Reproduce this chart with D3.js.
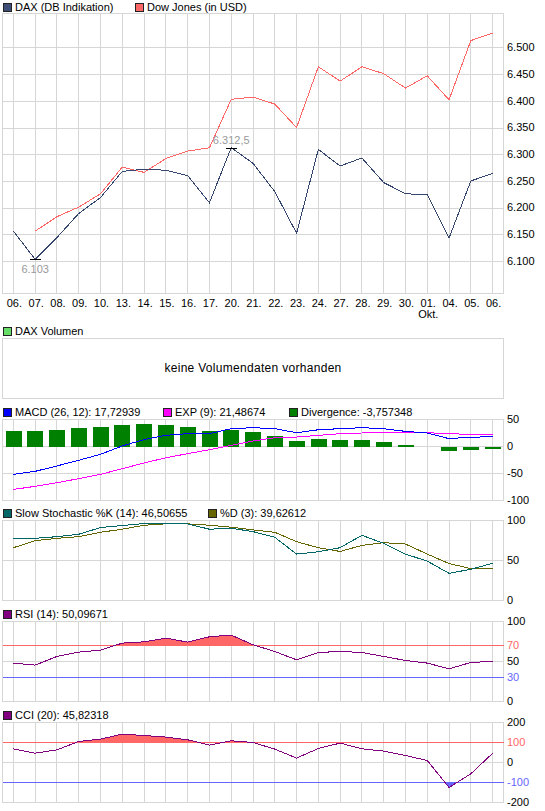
<!DOCTYPE html>
<html><head><meta charset="utf-8">
<script src="https://cdn.jsdelivr.net/npm/d3@7/dist/d3.min.js"></script>
<style>
body{margin:0;background:#fff;}
svg{display:block;font-family:"Liberation Sans",Arial,sans-serif;font-size:11px;}
.grid{stroke:#d6d6d6;stroke-width:1;shape-rendering:crispEdges;fill:none;}
.ln{fill:none;stroke-width:1;shape-rendering:crispEdges;}
</style></head><body>
<svg id="c" width="545" height="811"></svg>
<script>
// ---------- data ----------
const days = ["06.","07.","08.","09.","10.","13.","14.","15.","16.","17.","20.","21.","22.","23.","24.","27.","28.","29.","30.","01.","04.","05.","06."];
const monthIndex = [19];
const monthNames = ["Okt."];
const dax = [6156,6103,6144,6189,6219,6268,6272,6270,6260,6209,6312.5,6283,6230,6152,6309,6278,6293,6247,6226,6224,6143,6250,6264];
const dow = [null,6156,6183,6201,6226,6276,6266,6292,6306,6312,6403,6407,6394,6350,6464,6437,6464,6451,6424,6447,6402,6513,6527];
const priceTicks = [6100,6150,6200,6250,6300,6350,6400,6450,6500];
const priceDomain = [6039.1,6563.7];
const macd = [-51.5,-46,-36,-25.5,-14.5,1,12.8,20.7,23.8,23.8,33,34.8,33,25.5,31,33,34.8,33,28,25,14.5,17.5,17.7];
const macdExp = [-79.5,-73.8,-67,-59.6,-51.6,-41,-30.6,-20.8,-13.3,-5.9,2.1,10.1,16.3,17.5,20.6,23.7,25,25.5,26.8,25.5,23.7,22.5,21.5];
const divergence = [29,29,30.9,34.6,36.4,40.1,42,40.1,36.4,29,30.9,27.2,19.8,10.5,14.2,12.3,12.3,8.6,3.1,0,-8,-6.2,-3.8];
const macdTicks = [50,0,-50,-100];
const stochK = [77.7,77.7,79.8,82.8,91.2,93.7,96.2,95.8,95.8,89.1,90.3,86.1,79,58,60.9,66,81.5,71.4,58,49.2,34,39,46.5];
const stochD = [66,74.8,77.7,79.8,85.3,89.1,94.1,95.8,95.8,94.1,91.6,88.2,85.3,73.5,66,61.3,68.9,72.3,70.6,58,46.2,39.9,39.6];
const stochTicks = [100,50,0];
const rsi = [48,45.5,56.3,61.7,64.2,73,74.6,79.2,74.2,80.9,83,70.9,62.5,52.1,61.3,62.5,61.3,56.3,51.3,48,40.9,48.8,50.1];
const rsiTicks = [100,70,50,30,0];
const cci = [68.5,46.5,63.5,105,117,142,135,127,113.5,87,108.5,100,67,22,70,97,68.5,57,35,10,-125,-56.5,45.8];
const cciTicks = [200,100,0,-100,-200];

// ---------- setup ----------
const svg = d3.select("#c");
const L = 2.5, R = 503.5, LABX = 507;
const RED = "#ff6666", BLUE = "#6666ff";
const de = d3.formatLocale({decimal:",",thousands:".",grouping:[3],currency:["","€"]});
const fmtP = v => (v % 1 ? de.format(",.1f") : de.format(",.0f"))(v);
const idx = d3.range(days.length);
const x = d3.scalePoint().domain(idx).range([L, R]).padding(0.5);

function frame(top, bottom, y, gridVals) {
  const g = svg.append("g");
  g.selectAll(".v").data(idx).join("line").attr("class","grid")
    .attr("x1", d => Math.floor(x(d)) + 0.5).attr("x2", d => Math.floor(x(d)) + 0.5)
    .attr("y1", top).attr("y2", bottom);
  g.selectAll(".h").data(gridVals).join("line").attr("class","grid")
    .attr("x1", L).attr("x2", R).attr("y1", d => y(d)).attr("y2", d => y(d));
  g.append("rect").attr("class","grid").attr("x", L).attr("y", top)
    .attr("width", R - L).attr("height", bottom - top);
  return g;
}
function ticks(vals, y, fmt, colors) {
  svg.append("g").selectAll("text").data(vals).join("text")
    .attr("x", LABX).attr("y", d => y(d)).attr("dy", "0.35em")
    .attr("fill", (d, i) => colors ? colors[i] : "#000")
    .text(fmt);
}
function legend(items, yc) {
  items.forEach(it => {
    svg.append("rect").attr("x", it.x + 0.5).attr("y", Math.round(yc - 4) + 0.5)
      .attr("width", 8).attr("height", 8).attr("fill", it.c).attr("stroke", "#222")
      .style("shape-rendering","crispEdges");
    svg.append("text").attr("x", it.x + 12).attr("y", yc).attr("dy", "0.35em").text(it.t);
  });
}
function line(vals, y, color) {
  const gen = d3.line().defined(d => d != null).x((d, i) => x(i)).y(d => y(d));
  svg.append("path").attr("class","ln").attr("stroke", color).attr("d", gen(vals));
}
function band(vals, y, level, above, color, top, bottom, id) {
  const cy = y(level);
  svg.append("clipPath").attr("id", id).append("rect")
    .attr("x", 0).attr("width", 545)
    .attr("y", above ? top - 20 : cy).attr("height", above ? cy - top + 20 : bottom - cy + 20);
  const a = d3.area().x((d, i) => x(i)).y0(cy).y1(d => y(d));
  svg.append("path").attr("d", a(vals)).attr("fill", color).attr("clip-path", `url(#${id})`);
}

// ---------- main price chart ----------
const pTop = 13.5, pBot = 293.5;
const yP = d3.scaleLinear().domain(priceDomain).range([pBot, pTop]);
frame(pTop, pBot, v => Math.round(yP(v)) + 0.5, priceTicks);
ticks(priceTicks, yP, fmtP);
legend([{x:3, c:"#3d4f77", t:"DAX (DB Indikation)"}, {x:135, c:RED, t:"Dow Jones (in USD)"}], 7);

const iMax = d3.maxIndex(dax), iMin = d3.minIndex(dax);
svg.append("rect").attr("x", x(iMax) - 18).attr("y", yP(dax[iMax]) - 14).attr("width", 36).attr("height", 11).attr("fill", "#fff");
line(dow, yP, RED);
line(dax, yP, "#34466e");
[[iMax, -8], [iMin, 10]].forEach(([i, off]) => {
  const yy = Math.round(yP(dax[i])) + 0.5;
  svg.append("line").attr("x1", x(i) - 5).attr("x2", x(i) + 6).attr("y1", yy).attr("y2", yy)
    .attr("stroke", "#000").style("shape-rendering","crispEdges");
  svg.append("text").attr("x", x(i)).attr("y", yy + off).attr("dy", "0.35em")
    .attr("text-anchor", "middle").attr("fill", "#999").text(fmtP(dax[i]));
});
svg.append("g").selectAll("text").data(idx).join("text")
  .attr("x", d => x(d) + 1).attr("y", 303).attr("dy", "0.35em").attr("text-anchor", "middle")
  .text(d => days[d]);
svg.append("g").selectAll("text").data(monthIndex).join("text")
  .attr("x", d => x(d) + 1).attr("y", 314.5).attr("dy", "0.35em").attr("text-anchor", "middle")
  .text((d, i) => monthNames[i]);

// ---------- volume ----------
legend([{x:3, c:"#66dd66", t:"DAX Volumen"}], 331);
svg.append("rect").attr("class","grid").attr("x", L).attr("y", 338.5).attr("width", R - L).attr("height", 60);
svg.append("text").attr("x", (L + R) / 2).attr("y", 368).attr("dy", "0.35em").attr("text-anchor", "middle")
  .style("font-size", "12px").style("letter-spacing", "0.3px").text("keine Volumendaten vorhanden");

// ---------- MACD ----------
const mTop = 419.5, mBot = 500.5;
const yM = d3.scaleLinear().domain([-100, 50]).range([mBot, mTop]);
frame(mTop, mBot, yM, [0, -50]);
const bw = x.step() * 0.72;
svg.append("g").selectAll("rect").data(divergence).join("rect")
  .attr("x", (d, i) => Math.round(x(i) - bw / 2)).attr("width", Math.round(bw))
  .attr("y", d => Math.round(Math.min(yM(d), yM(0))))
  .attr("height", d => Math.round(Math.abs(yM(d) - yM(0))))
  .attr("fill", "#008000");
line(macdExp, yM, "#ff00ff");
line(macd, yM, "#0000ff");
ticks(macdTicks, yM, d => d);
legend([{x:3, c:"#0000ff", t:"MACD (26, 12): 17,72939"}, {x:163, c:"#ff00ff", t:"EXP (9): 21,48674"},
        {x:289, c:"#007f00", t:"Divergence: -3,757348"}], 411.7);

// ---------- Stochastic ----------
const sTop = 520.5, sBot = 600.5;
const yS = d3.scaleLinear().domain([0, 100]).range([sBot, sTop]);
frame(sTop, sBot, yS, [50]);
line(stochD, yS, "#666600");
line(stochK, yS, "#006666");
ticks(stochTicks, yS, d => d);
legend([{x:3, c:"#006666", t:"Slow Stochastic %K (14): 46,50655"}, {x:208, c:"#666600", t:"%D (3): 39,62612"}], 513.3);

// ---------- RSI ----------
const rTop = 621.5, rBot = 701.5;
const yR = d3.scaleLinear().domain([0, 100]).range([rBot, rTop]);
frame(rTop, rBot, yR, [50]);
band(rsi, yR, 70, true, RED, rTop, rBot, "rsiUp");
svg.append("line").attr("x1", L).attr("x2", R).attr("y1", yR(70)).attr("y2", yR(70)).attr("stroke", RED).style("shape-rendering","crispEdges");
svg.append("line").attr("x1", L).attr("x2", R).attr("y1", yR(30)).attr("y2", yR(30)).attr("stroke", BLUE).style("shape-rendering","crispEdges");
line(rsi, yR, "#800080");
ticks(rsiTicks, yR, d => d, ["#000", RED, "#000", BLUE, "#000"]);
legend([{x:3, c:"#800080", t:"RSI (14): 50,09671"}], 614.3);

// ---------- CCI ----------
const cTop = 722.5, cBot = 802.5;
const yC = d3.scaleLinear().domain([-200, 200]).range([cBot, cTop]);
frame(cTop, cBot, yC, [0]);
band(cci, yC, 100, true, RED, cTop, cBot, "cciUp");
band(cci, yC, -100, false, BLUE, cTop, cBot, "cciDn");
svg.append("line").attr("x1", L).attr("x2", R).attr("y1", yC(100)).attr("y2", yC(100)).attr("stroke", RED).style("shape-rendering","crispEdges");
svg.append("line").attr("x1", L).attr("x2", R).attr("y1", yC(-100)).attr("y2", yC(-100)).attr("stroke", BLUE).style("shape-rendering","crispEdges");
line(cci, yC, "#800080");
ticks(cciTicks, yC, d => d, ["#000", RED, "#000", BLUE, "#000"]);
legend([{x:3, c:"#800080", t:"CCI (20): 45,82318"}], 715);
</script>
</body></html>
